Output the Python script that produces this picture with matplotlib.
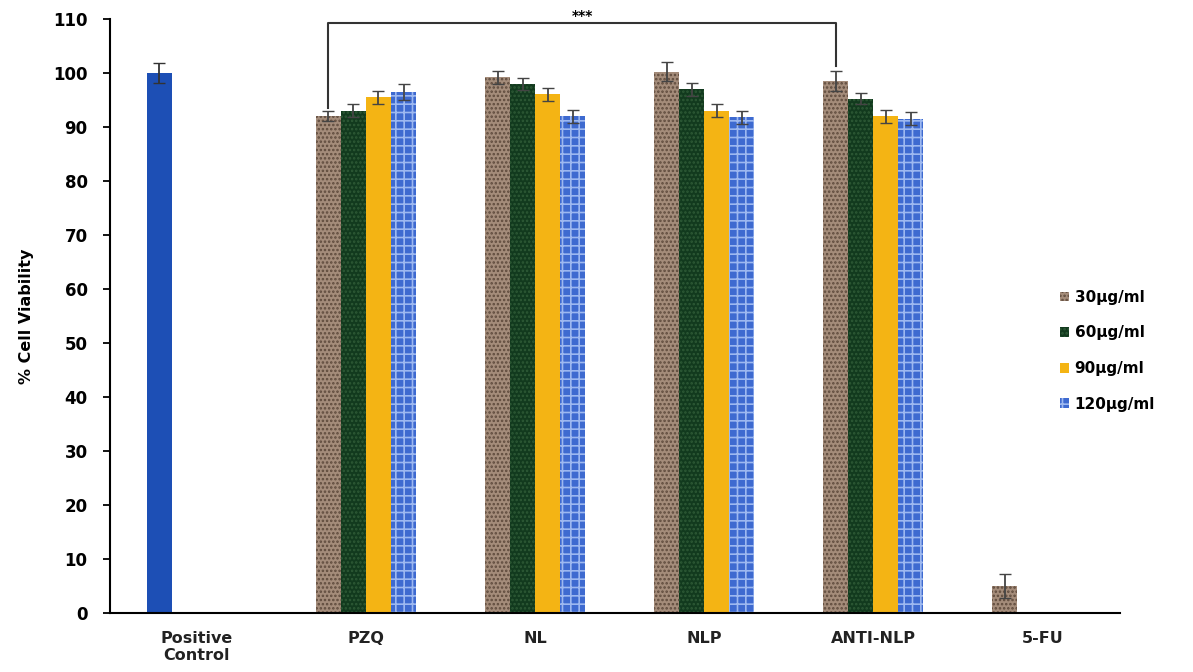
import matplotlib.pyplot as plt
import numpy as np

plt.rcParams['font.family'] = ['DejaVu Sans']
plt.rcParams['font.weight'] = 'bold'
plt.rcParams['hatch.linewidth'] = 1.2

groupes = ['Positive\nControl', 'PZQ', 'NL', 'NLP', 'ANTI-NLP', '5-FU']
series = ['30µg/ml', '60µg/ml', '90µg/ml', '120µg/ml']

# valeurs (NaN = pas de barre)
v30 = [np.nan, 92.0, 99.2, 100.2, 98.5, 5.0]
v60 = [np.nan, 93.0, 98.0, 97.0, 95.2, np.nan]
v90 = [np.nan, 95.5, 96.0, 93.0, 92.0, np.nan]
v120 = [np.nan, 96.5, 92.0, 91.8, 91.5, np.nan]
e30 = [0, 1.0, 1.2, 1.8, 1.8, 2.2]
e60 = [0, 1.2, 1.1, 1.2, 1.0, 0]
e90 = [0, 1.2, 1.2, 1.2, 1.2, 0]
e120 = [0, 1.5, 1.2, 1.2, 1.2, 0]
controle = [100.0]
e_controle = [1.8]

valeurs = [v30, v60, v90, v120]
erreurs = [e30, e60, e90, e120]
couleurs = ['#A48C7A', '#123A1E', '#F4B414', '#3E6AD0']
hachures = ['....', '....', '', '++']
couleurs_hachure = ['#5E4A3C', '#2E5A36', '#F4B414', '#9DB8F0']

fig = plt.figure(figsize=(11.93, 6.72), dpi=100, facecolor='white')
ax = fig.add_axes([0.092, 0.088, 0.847, 0.884])

x = np.arange(len(groupes))
largeur = 0.148
decal = (np.arange(4) - 1.5) * largeur

# controle positif : premiere position du premier groupe
ax.bar(x[0] + decal[0], controle, largeur, color='#1D4FB5', zorder=2)
ax.errorbar(x[0] + decal[0], controle, yerr=e_controle, fmt='none',
            ecolor='#333333', elinewidth=1.3, capsize=4, zorder=3)

handles = []
for i in range(4):
    b = ax.bar(x + decal[i], valeurs[i], largeur, color=couleurs[i],
               hatch=hachures[i], edgecolor=couleurs_hachure[i], linewidth=0,
               zorder=2, label=series[i])
    handles.append(b)
    masque = ~np.isnan(np.array(valeurs[i]))
    ax.errorbar((x + decal[i])[masque], np.array(valeurs[i])[masque],
                yerr=np.array(erreurs[i])[masque], fmt='none',
                ecolor='#444444', elinewidth=1.3, capsize=4, zorder=3)

# crochet de significativite PZQ -> ANTI-NLP
xa = x[1] + decal[0]
xb = x[4] + decal[0]
ax.plot([xa, xa, xb, xb], [93.5, 109.3, 109.3, 101.2], color='#333333',
        lw=1.5, clip_on=False, zorder=4)
ax.text((xa + xb) / 2, 109.3, '***', ha='center', va='bottom',
        fontsize=10, fontweight='bold', clip_on=False)

ax.set_ylim(0, 110)
ax.set_xlim(-0.515, 5.46)
ax.set_yticks(range(0, 111, 10))
ax.set_xticks(x)
ax.set_xticklabels(groupes, fontsize=11.5, fontweight='bold', color='#222222',
                   va='top', linespacing=1.2)
ax.tick_params(axis='x', length=0, pad=13)
ax.tick_params(axis='y', labelsize=12, length=5, width=1.3, direction='out',
               pad=11)
for lab in ax.get_yticklabels():
    lab.set_fontweight('bold')
ax.set_ylabel('% Cell Viability', fontsize=11.5, fontweight='bold')
ax.yaxis.set_label_coords(-0.075, 0.5)
for s in ['top', 'right']:
    ax.spines[s].set_visible(False)
ax.spines['left'].set_linewidth(1.5)
ax.spines['bottom'].set_linewidth(1.5)

fig.legend(handles=handles, labels=series, loc='center left',
           bbox_to_anchor=(0.877, 0.478), frameon=False, fontsize=11,
           handlelength=0.6, handleheight=0.6, handletextpad=0.35,
           labelspacing=1.35)

plt.savefig('out.png', dpi=100, facecolor='white')
